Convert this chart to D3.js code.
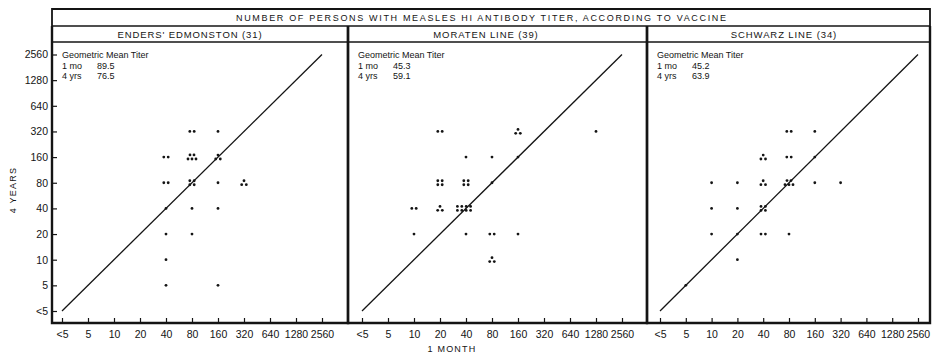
<!DOCTYPE html>
<html>
<head>
<meta charset="utf-8">
<script src="https://cdn.jsdelivr.net/npm/d3@7"></script>
<style>
body{margin:0;background:#fff}
svg{display:block;font-family:"Liberation Sans",Arial,sans-serif}
</style>
</head>
<body>
<div class="canvas"></div>
<script>
// titer categories, same on both axes
const titers = ["<5","5","10","20","40","80","160","320","640","1280","2560"];
const vaccines = ["ENDERS' EDMONSTON (31)","MORATEN LINE (39)","SCHWARZ LINE (34)"];
const gmtMonth = ["89.5","45.3","45.2"];
const gmtYears = ["76.5","59.1","63.9"];
const chartTitle = "NUMBER OF PERSONS WITH MEASLES HI ANTIBODY TITER, ACCORDING TO VACCINE";

// [titer at 1 month, titer at 4 years, number of persons]
const enders = [
  ["40","160",2],["40","80",2],["40","40",1],["40","20",1],["40","10",1],["40","5",1],
  ["80","320",2],["80","160",5],["80","80",4],["80","40",1],["80","20",1],
  ["160","320",1],["160","160",3],["160","80",1],["160","40",1],["160","5",1],
  ["320","80",3]
];
const moraten = [
  ["10","40",2],["10","20",1],
  ["20","320",2],["20","80",4],["20","40",3],
  ["40","160",1],["40","80",4],["40","40",8],["40","20",1],
  ["80","160",1],["80","80",1],["80","20",2],["80","10",3],
  ["160","320",3],["160","160",1],["160","20",1],
  ["1280","320",1]
];
const schwarz = [
  ["5","5",1],
  ["10","80",1],["10","40",1],["10","20",1],
  ["20","80",1],["20","40",1],["20","20",1],["20","10",1],
  ["40","160",3],["40","80",3],["40","40",4],["40","20",2],
  ["80","320",2],["80","160",2],["80","80",5],["80","20",1],
  ["160","320",1],["160","160",1],["160","80",1],
  ["320","80",1]
];
const panelData = [enders, moraten, schwarz];

// layout
const dim = {width:939, height:356};
const frame = {left:52, right:930, top:9, titleLine:26, headLine:42, bottom:323};
const panels = [
  {left:52, right:348, x0:62, x1:322, head:190},
  {left:348, right:647, x0:362, x1:622, head:486},
  {left:647, right:930, x0:660, x1:918, head:784}
];
const yRange = [311, 54.5];
const ink = '#141414';

const svg = d3.select('.canvas').append('svg')
  .attr('width', dim.width).attr('height', dim.height);

const y = d3.scalePoint().domain(titers).range(yRange);

// small clusters of dots for several persons at the same titer pair
const cluster = n => {
  if (n === 1) return [[0,0]];
  if (n === 2) return [[-2.2,0],[2.2,0]];
  if (n === 3) return [[0,-2],[-2.3,1.9],[2.3,1.9]];
  if (n === 4) return [[-2.2,-2],[2.2,-2],[-2.2,2],[2.2,2]];
  if (n === 5) return [[-2,-2.2],[2,-2.2],[-4,1.9],[0,1.9],[4,1.9]];
  const cols = Math.ceil(n / 2), out = [];
  for (let i = 0; i < n; i++) {
    const c = i % cols, r = Math.floor(i / cols);
    out.push([(c - (cols - 1) / 2) * 4.4 - 2, r === 0 ? -2 : 2]);
  }
  return out;
};

// title row: frame top, outer sides and row lines
svg.append('path')
  .attr('d', `M${frame.left},${frame.titleLine}V${frame.top}H${frame.right}V${frame.titleLine}`)
  .attr('fill', 'none').attr('stroke', ink).attr('stroke-width', 1.8);
svg.append('line')
  .attr('x1', frame.left).attr('x2', frame.right)
  .attr('y1', frame.titleLine).attr('y2', frame.titleLine)
  .attr('stroke', ink).attr('stroke-width', 1.4);
svg.append('line')
  .attr('x1', frame.left).attr('x2', frame.right)
  .attr('y1', frame.headLine).attr('y2', frame.headLine)
  .attr('stroke', ink).attr('stroke-width', 1.4);
svg.append('text')
  .attr('x', 481).attr('y', 20.5)
  .attr('text-anchor', 'middle')
  .attr('font-size', 9)
  .attr('textLength', 490).attr('lengthAdjust', 'spacing')
  .attr('fill', ink)
  .text(chartTitle);

panels.forEach((p, i) => {
  const g = svg.append('g');
  const x = d3.scalePoint().domain(titers).range([p.x0, p.x1]);

  // header
  g.append('text')
    .attr('x', p.head).attr('y', 37.5)
    .attr('text-anchor', 'middle')
    .attr('font-size', 9.5)
    .attr('letter-spacing', 0.9)
    .attr('fill', ink)
    .text(vaccines[i]);

  // x axis, ticks point inward
  const xAxis = d3.axisBottom(x).tickSize(-5).tickSizeOuter(0).tickPadding(8);
  g.append('g')
    .attr('transform', `translate(0,${frame.bottom})`)
    .call(xAxis)
    .call(a => a.select('.domain').remove())
    .call(a => a.selectAll('line').attr('stroke', ink).attr('stroke-width', 1.2))
    .call(a => a.selectAll('text').attr('font-size', 10.5).attr('fill', ink)
      .attr('font-family', '"Liberation Sans",Arial,sans-serif'));

  if (i === 0) {
    const yAxis = d3.axisLeft(y).tickSize(-5).tickSizeOuter(0).tickPadding(4);
    g.append('g')
      .attr('transform', `translate(${p.left},0)`)
      .call(yAxis)
      .call(a => a.select('.domain').remove())
      .call(a => a.selectAll('line').attr('stroke', ink).attr('stroke-width', 1.2))
      .call(a => a.selectAll('text').attr('font-size', 10.5).attr('fill', ink)
        .attr('font-family', '"Liberation Sans",Arial,sans-serif'));
  }

  // line of equality
  g.append('line')
    .attr('x1', x(titers[0])).attr('y1', y(titers[0]))
    .attr('x2', x(titers[titers.length - 1])).attr('y2', y(titers[titers.length - 1]))
    .attr('stroke', ink).attr('stroke-width', 1.3);

  // geometric mean titer note
  const note = g.append('g').attr('font-size', 9).attr('fill', ink);
  const tx = p.left + 10;
  note.append('text').attr('x', tx).attr('y', 58).text('Geometric Mean Titer');
  note.append('text').attr('x', tx).attr('y', 69).text('1 mo');
  note.append('text').attr('x', tx + 35).attr('y', 69).text(gmtMonth[i]);
  note.append('text').attr('x', tx).attr('y', 78.5).text('4 yrs');
  note.append('text').attr('x', tx + 35).attr('y', 78.5).text(gmtYears[i]);

  // persons
  const dots = [];
  panelData[i].forEach(d => {
    cluster(d[2]).forEach(o => dots.push({cx: x(d[0]) + o[0], cy: y(d[1]) + o[1]}));
  });
  g.selectAll('circle').data(dots).enter().append('circle')
    .attr('cx', d => d.cx).attr('cy', d => d.cy)
    .attr('r', 1.4).attr('fill', ink);

  // panel box below the title row: sides and bottom axis line
  g.append('path')
    .attr('d', `M${p.left},${frame.titleLine}V${frame.bottom}H${p.right}V${frame.titleLine}`)
    .attr('fill', 'none').attr('stroke', ink).attr('stroke-width', 2.4);
});

// axis titles
svg.append('text')
  .attr('transform', 'translate(16,190) rotate(-90)')
  .attr('text-anchor', 'middle')
  .attr('font-size', 9).attr('letter-spacing', 1.2)
  .attr('fill', ink)
  .text('4 YEARS');
svg.append('text')
  .attr('x', 452).attr('y', 351.5)
  .attr('text-anchor', 'middle')
  .attr('font-size', 9).attr('letter-spacing', 1.2)
  .attr('fill', ink)
  .text('1 MONTH');
</script>
</body>
</html>
